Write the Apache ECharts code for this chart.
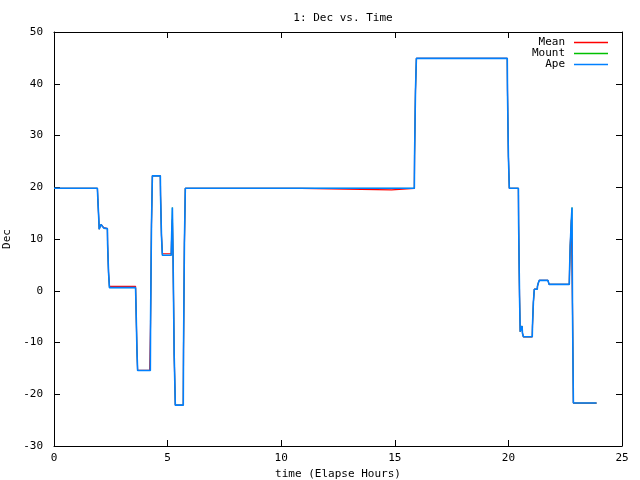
<!DOCTYPE html>
<html><head><meta charset="utf-8">
<script src="https://cdn.jsdelivr.net/npm/echarts@6/dist/echarts.min.js"></script>
<style>html,body{margin:0;padding:0;background:#fff}#c{width:640px;height:480px}</style>
</head><body><div id="c"></div>
<script>
const titleText = "1: Dec vs. Time";
const xName = "time (Elapse Hours)";
const yName = "Dec";
const seriesNames = ["Mean", "Mount", "Ape"];

const apeTime = [0,1.91,1.93,1.97,1.99,2.03,2.07,2.13,2.19,2.35,2.36,2.39,2.40,2.43,2.44,3.59,3.61,3.64,3.65,3.67,3.68,4.24,4.25,4.28,4.29,4.32,4.33,4.68,4.69,4.72,4.73,4.76,4.77,5.16,5.17,5.20,5.21,5.24,5.27,5.29,5.33,5.34,5.69,5.70,5.73,5.74,5.77,5.78,15.86,15.87,15.90,15.91,15.94,15.95,19.95,19.96,19.99,20.00,20.03,20.04,20.44,20.45,20.48,20.49,20.51,20.52,20.56,20.60,20.62,20.66,21.05,21.06,21.09,21.10,21.13,21.14,21.27,21.28,21.31,21.32,21.35,21.36,21.74,21.76,21.79,22.68,22.69,22.71,22.72,22.75,22.77,22.80,22.82,22.85,22.86,23.88];
const apeDec  = [19.8,19.8,17.7,13.9,11.9,12.4,12.8,12.6,12.1,12.0,9.0,9.0,3.6,3.6,0.6,0.6,-3.1,-3.1,-11.3,-11.3,-15.4,-15.4,-6.0,-6.0,12.7,12.7,22.2,22.2,18.4,18.4,10.7,10.7,6.85,6.85,9.2,9.2,16.1,6.7,6.7,-12.5,-12.5,-22.1,-22.1,-11.6,-11.6,9.2,9.2,19.8,19.8,26.0,26.0,38.6,38.6,44.9,44.9,38.6,38.6,26.0,26.0,19.8,19.8,13.0,13.0,-1.0,-1.0,-7.9,-7.3,-6.8,-8.2,-8.9,-8.9,-6.75,-6.75,-2.2,-2.2,0.3,0.3,0.9,0.9,1.55,1.55,2.0,2.0,1.7,1.24,1.24,3.6,3.6,8.65,8.65,13.7,16.1,-2.8,-2.8,-21.7,-21.7];

const mountTime = apeTime;
const mountDec = apeDec;

const meanTime = [0,1.91,1.93,1.97,1.99,2.03,2.07,2.13,2.19,2.35,2.36,2.39,2.40,2.43,2.44,3.59,3.61,3.64,3.65,3.67,3.68,4.21,4.24,4.25,4.28,4.29,4.32,4.33,4.68,4.69,4.72,4.73,4.76,4.77,5.16,5.17,5.20,5.21,5.24,5.27,5.29,5.33,5.34,5.69,5.70,5.73,5.74,5.77,5.78,10.87,10.88,14.86,14.87,15.86,15.87,15.90,15.91,15.94,15.95,19.95,19.96,19.99,20.00,20.03,20.04,20.44,20.45,20.48,20.49,20.51,20.52,20.56,20.60,20.62,20.66,21.05,21.06,21.09,21.10,21.13,21.14,21.27,21.28,21.31,21.32,21.35,21.36,21.74,21.76,21.79,22.68,22.69,22.71,22.72,22.75,22.77,22.80,22.82,22.85,22.86,23.88];
const meanDec  = [19.8,19.8,17.7,13.9,11.9,12.4,12.8,12.7,12.2,12.0,9.0,9.0,3.6,3.6,0.85,0.85,-3.1,-3.1,-11.3,-11.3,-15.4,-15.4,-15.6,-6.1,-6.1,12.7,12.7,22.2,22.2,18.4,18.4,10.7,10.7,7.15,7.15,9.2,9.2,13.8,6.7,6.7,-12.5,-12.5,-22.1,-22.1,-11.6,-11.6,9.2,9.2,19.8,19.8,19.5,19.5,19.8,19.8,26.0,26.0,38.6,38.6,44.9,44.9,38.6,38.6,26.0,26.0,19.8,19.8,13.0,13.0,-1.0,-1.0,-7.9,-7.3,-6.8,-8.2,-8.9,-8.9,-6.75,-6.75,-2.2,-2.2,0.3,0.3,0.9,0.9,1.55,1.55,2.0,2.0,1.7,1.24,1.24,3.6,3.6,8.65,8.65,13.7,14.0,-2.6,-2.6,-21.7,-21.7];

const xMin = 0, xMax = 25, xStep = 5;
const yMin = -30, yMax = 50, yStep = 10;

function zip(a, b) { return a.map((v, i) => [v, b[i]]); }

const FONT = "'DejaVu Sans Mono', monospace";
const colors = ['#ff0000', '#00c000', '#0080ff'];
const chart = echarts.init(document.getElementById('c'), null, {renderer: 'canvas'});

const tickCommon = {inside: true, length: 6, lineStyle: {color: '#000', width: 1}};
const lineCommon = {show: true, onZero: false, lineStyle: {color: '#000', width: 1}};

function legendFor(i, top) {
  return {
    data: [seriesNames[i]], right: 32, top: top, orient: 'horizontal', align: 'right',
    icon: 'rect', itemWidth: 34, itemHeight: 1.5, itemGap: 0, padding: 0,
    selectedMode: false,
    textStyle: {fontFamily: FONT, fontSize: 11, color: '#000', padding: [0, 4, 0, 0]}
  };
}

chart.setOption({
  animation: false,
  backgroundColor: '#fff',
  title: {text: titleText, left: 338, top: 8, textAlign: 'center',
    textStyle: {fontFamily: FONT, fontSize: 11, fontWeight: 'normal', color: '#000'}},
  legend: [legendFor(0, 37), legendFor(1, 48), legendFor(2, 59)],
  grid: {left: 54, right: 18, top: 32, bottom: 34, show: false, containLabel: false, outerBoundsMode: 'none'},
  xAxis: [
    {type: 'value', min: xMin, max: xMax, interval: xStep, position: 'bottom',
     axisLine: lineCommon, axisTick: tickCommon, splitLine: {show: false},
     axisLabel: {fontFamily: FONT, fontSize: 11, color: '#000', margin: 7},
     name: xName, nameLocation: 'middle', nameGap: 23,
     nameTextStyle: {fontFamily: FONT, fontSize: 11, color: '#000'}},
    {type: 'value', min: xMin, max: xMax, interval: xStep, position: 'top',
     axisLine: lineCommon, axisTick: tickCommon, splitLine: {show: false},
     axisLabel: {show: false}}
  ],
  yAxis: [
    {type: 'value', min: yMin, max: yMax, interval: yStep, position: 'left',
     axisLine: lineCommon, axisTick: tickCommon, splitLine: {show: false},
     axisLabel: {fontFamily: FONT, fontSize: 11, color: '#000', margin: 11},
     name: yName, nameLocation: 'middle', nameGap: 35, nameRotate: 90,
     nameTextStyle: {fontFamily: FONT, fontSize: 11, color: '#000'}},
    {type: 'value', min: yMin, max: yMax, interval: yStep, position: 'right',
     axisLine: lineCommon, axisTick: tickCommon, splitLine: {show: false},
     axisLabel: {show: false}}
  ],
  series: [
    {name: seriesNames[0], type: 'line', data: zip(meanTime, meanDec), showSymbol: false,
     lineStyle: {color: colors[0], width: 1.2}, itemStyle: {color: colors[0]}, z: 2},
    {name: seriesNames[1], type: 'line', data: zip(mountTime, mountDec), showSymbol: false,
     lineStyle: {color: colors[1], width: 0.6}, itemStyle: {color: colors[1]}, z: 3},
    {name: seriesNames[2], type: 'line', data: zip(apeTime, apeDec), showSymbol: false,
     lineStyle: {color: colors[2], width: 1.6}, itemStyle: {color: colors[2]}, z: 4}
  ]
});
</script></body></html>
